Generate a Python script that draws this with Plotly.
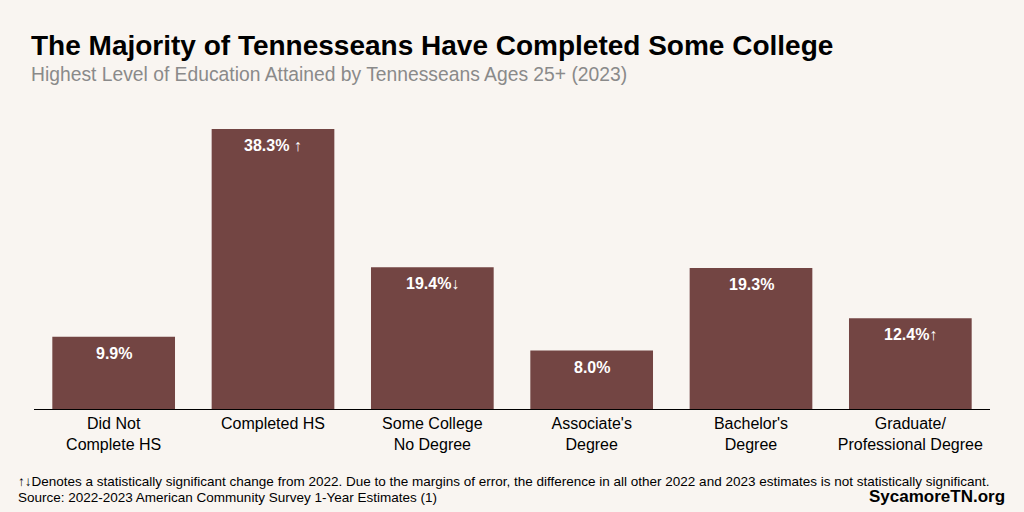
import plotly.graph_objects as go

categories = ["Did Not<br>Complete HS", "Completed HS", "Some College<br>No Degree",
              "Associate's<br>Degree", "Bachelor's<br>Degree", "Graduate/<br>Professional Degree"]
values = [9.9, 38.3, 19.4, 8.0, 19.3, 12.4]
labels = ["9.9%", "38.3% \u2191", "19.4%\u2193", "8.0%", "19.3%", "12.4%\u2191"]

BG = "#f9f5f1"
BAR = "#734543"
FONT = "Liberation Sans, Arial, sans-serif"

fig = go.Figure()
fig.add_trace(go.Bar(x=categories, y=values, marker=dict(color=BAR, line=dict(width=0)),
                     hoverinfo="skip"))

for c, v, t in zip(categories, values, labels):
    fig.add_annotation(x=c, y=v, text="<b>%s</b>" % t, showarrow=False, yanchor="top",
                       yshift=-6, font=dict(color="white", size=16, family=FONT))

fig.update_layout(
    width=1024, height=512, paper_bgcolor=BG, plot_bgcolor=BG,
    margin=dict(l=34, r=34, t=110, b=103),
    bargap=0.23, showlegend=False,
    font=dict(family=FONT, color="black"),
    xaxis=dict(showline=True, linecolor="black", linewidth=1, ticks="",
               tickfont=dict(size=16, color="black"), fixedrange=True),
    yaxis=dict(range=[0, 40.9], visible=False, showgrid=False, zeroline=False, fixedrange=True),
)

fig.add_annotation(xref="paper", yref="paper", x=-0.005, y=1.0, yshift=47, xanchor="left", yanchor="bottom",
                   text="<b>The Majority of Tennesseans Have Completed Some College</b>",
                   showarrow=False, font=dict(size=28, color="black", family=FONT))
fig.add_annotation(xref="paper", yref="paper", x=-0.005, y=1.0, yshift=23, xanchor="left", yanchor="bottom",
                   text="Highest Level of Education Attained by Tennesseans Ages 25+ (2023)",
                   showarrow=False, font=dict(size=19.3, color="#8a8a8a", family=FONT))
fig.add_annotation(xref="paper", yref="paper", x=-0.019, y=0, yshift=-63, xanchor="left", yanchor="top",
                   text="\u2191\u2193Denotes a statistically significant change from 2022. Due to the margins of error, the difference in all other 2022 and 2023 estimates is not statistically significant.",
                   showarrow=False, font=dict(size=13.5, color="black", family=FONT))
fig.add_annotation(xref="paper", yref="paper", x=-0.019, y=0, yshift=-79, xanchor="left", yanchor="top",
                   text="Source: 2022-2023 American Community Survey 1-Year Estimates (1)",
                   showarrow=False, font=dict(size=13.5, color="black", family=FONT))
fig.add_annotation(xref="paper", yref="paper", x=1.018, y=0, yshift=-76, xanchor="right", yanchor="top",
                   text="<b>SycamoreTN.org</b>",
                   showarrow=False, font=dict(size=17, color="black", family=FONT))

fig.write_html("out.html", config={"displayModeBar": False},
               post_script="document.body.style.margin='0';")
